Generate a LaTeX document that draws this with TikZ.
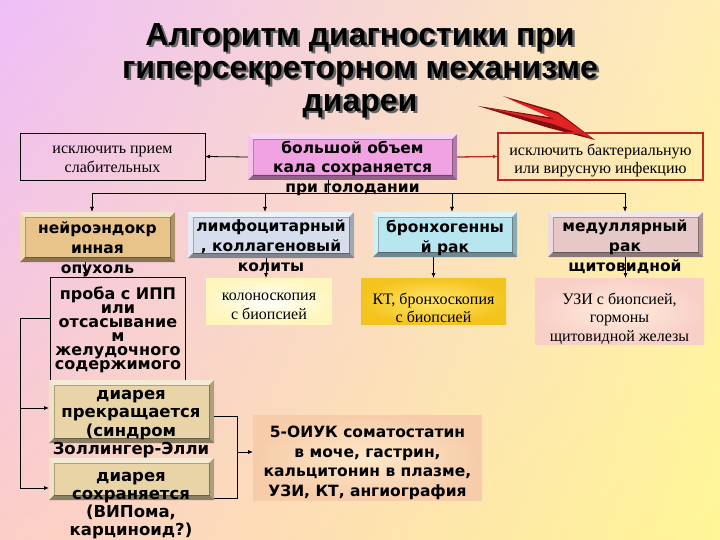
\documentclass[tikz,border=0pt]{standalone}
\usepackage{fontspec}
\setmainfont{Liberation Serif}
\newfontfamily\bsans{DejaVu Sans}
\newfontfamily\tfont{Liberation Sans}
\usetikzlibrary{calc,arrows.meta,shadings}
\definecolor{bgTL}{RGB}{238,190,248}
\definecolor{bgBL}{RGB}{252,206,200}
\definecolor{bgTR}{RGB}{255,238,180}
\definecolor{bgBR}{RGB}{255,246,150}
\definecolor{pinkbox}{RGB}{240,162,226}
\definecolor{tanbox}{RGB}{232,196,138}
\definecolor{limbox}{RGB}{214,222,238}
\definecolor{brobox}{RGB}{184,230,240}
\definecolor{medbox}{RGB}{230,200,200}
\definecolor{diabox}{RGB}{232,212,166}
\definecolor{colout}{RGB}{255,246,190}
\definecolor{ktin}{RGB}{255,230,110}
\definecolor{ktout}{RGB}{244,196,30}
\definecolor{uziin}{RGB}{255,236,220}
\definecolor{uziout}{RGB}{248,208,200}
\definecolor{oiin}{RGB}{255,232,200}
\definecolor{oiout}{RGB}{246,204,170}
\definecolor{redline}{RGB}{190,40,30}
\definecolor{arrowlight}{RGB}{225,35,35}
\definecolor{arrowdark}{RGB}{130,15,15}
\newcommand\shd[1]{\leavevmode\rlap{\kern2.5pt\raisebox{-2.5pt}{\color{black!60}#1}}#1}
\newcommand\bevl[2][5]{%
  \fill[white,opacity=0.55] (#2.north west) -- (#2.north east) -- ($(#2.north east)+(-#1,#1)$) -- ($(#2.north west)+(#1,#1)$) -- cycle;
  \fill[white,opacity=0.35] (#2.north west) -- ($(#2.north west)+(#1,#1)$) -- ($(#2.south west)+(#1,-#1)$) -- (#2.south west) -- cycle;
  \fill[black,opacity=0.40] (#2.south west) -- (#2.south east) -- ($(#2.south east)+(-#1,-#1)$) -- ($(#2.south west)+(#1,-#1)$) -- cycle;
  \fill[black,opacity=0.25] (#2.north east) -- (#2.south east) -- ($(#2.south east)+(-#1,-#1)$) -- ($(#2.north east)+(-#1,#1)$) -- cycle;
  \draw[black,opacity=0.25,line width=0.5pt] ($(#2.north west)+(#1,#1)$) rectangle ($(#2.south east)+(-#1,-#1)$);
}
\begin{document}
\begin{tikzpicture}[x=1pt,y=-1pt,
  every node/.style={inner sep=0pt,outer sep=0pt},
  bx/.style={anchor=north west},
  arr/.style={-{Latex[length=5pt,width=4pt]},line width=0.8pt},
  ln/.style={line width=0.8pt},
  bt/.style={font=\bsans\bfseries\fontsize{15.5}{19.5}\selectfont,align=center,anchor=north},
  bt2/.style={font=\bsans\bfseries\fontsize{15.5}{19.8}\selectfont,align=center,anchor=north},
  st/.style={font=\fontsize{16}{18.5}\selectfont,align=center,anchor=north}]
\shade[upper left=bgTL,upper right=bgTR,lower left=bgBL,lower right=bgBR] (0,0) rectangle (720,540);
\useasboundingbox (0,0) rectangle (720,540);
% title
\node[font=\tfont\bfseries\fontsize{32}{33}\selectfont,align=center,anchor=north] (title) at (360,23) {\shd{Алгоритм диагностики при}\\\shd{гиперсекреторном механизме}\\\shd{диареи}};
% red arrow
\fill[arrowdark,line join=round] (595,140) -- (558,112) -- (503,96) -- (555,118) -- (478,106) -- (549,128) -- cycle;
\fill[arrowlight] (593,139) -- (558,114) -- (508,98.5) -- (556,120) -- (486,107.5) -- (553,124) -- cycle;
% boxes
\node[bx,draw,line width=0.6pt,minimum width=185,minimum height=47] (ex1) at (20,133) {};
\node[bx,fill=pinkbox,minimum width=209,minimum height=46] (cen) at (248,134) {};
\bevl{cen}
\node[bx,draw=redline,line width=2.5pt,minimum width=205,minimum height=47] (ex2) at (498,133) {};
\node[bx,fill=tanbox,minimum width=155,minimum height=50] (neu) at (20,212) {};
\bevl{neu}
\node[bx,fill=limbox,minimum width=166,minimum height=46] (lim) at (188,212) {};
\bevl{lim}
\node[bx,fill=brobox,minimum width=144,minimum height=45] (bro) at (373,212) {};
\bevl{bro}
\node[bx,fill=medbox,minimum width=155,minimum height=45] (med) at (548,212) {};
\bevl{med}
\node[bx,inner color=white,outer color=colout,minimum width=126,minimum height=46] (col) at (206,278) {};
\node[bx,inner color=ktin,outer color=ktout,minimum width=145,minimum height=46] (kt) at (361,278) {};
\node[bx,inner color=uziin,outer color=uziout,minimum width=169,minimum height=66] (uzi) at (535,278) {};
\node[bx,draw,line width=0.6pt,minimum width=135,minimum height=105] (pro) at (50,277) {};
\node[bx,fill=diabox,minimum width=165,minimum height=63] (d1) at (49,380) {};
\bevl{d1}
\node[bx,fill=diabox,minimum width=165,minimum height=42] (d2) at (49,458) {};
\bevl{d2}
\node[bx,inner color=oiin,outer color=oiout,minimum width=229,minimum height=85] (oi) at (253,415) {};
% connectors
\draw[arr] (cen.west) -- (ex1.east);
\draw[arr,redline,line width=1.3pt] (cen.east) -- (ex2.west);
\coordinate (h0) at (328,193);
\coordinate (h1) at (92,193);
\coordinate (h2) at (265,193);
\coordinate (h3) at (452,193);
\coordinate (h4) at (625,193);
\draw[ln] (h0 |- cen.south) -- (h0);
\draw[ln] (h1) -- (h4);
\draw[arr] (h1) -- (h1 |- neu.north);
\draw[arr] (h2) -- (h2 |- lim.north);
\draw[arr] (h3) -- (h3 |- bro.north);
\draw[arr] (h4) -- (h4 |- med.north);
\draw[arr] ($(neu.south)+(-12.5,0)$) -- ($(pro.north)+(-32.5,0)$);
\draw[arr] ($(col.north |- lim.south)+(-3,0)$) -- ($(col.north)+(-3,0)$);
\draw[arr] (kt.north |- bro.south) -- (kt.north);
\draw[arr] (med.south) -- (med.south |- uzi.north);
\coordinate (L1) at (20,318);
\coordinate (L2) at (20,408);
\coordinate (L3) at (20,488);
\draw[ln] (pro.west |- L1) -- (L1) -- (L3);
\draw[arr] (L2) -- (L2 -| d1.west);
\draw[arr] (L3) -- (L3 -| d2.west);
\coordinate (R1) at (237,416);
\coordinate (R2) at (237,498);
\coordinate (R3) at (237,452);
\draw[ln] (R1 -| d1.east) -- (R1) -- (R2) -- (R2 -| d2.east);
\draw[arr] (R3) -- (R3 -| oi.west);
% texts
\node[st] (ex1t) at (112.5,146) {исключить прием\\слабительных};
\node[bt] (cent) at (352.5,141) {большой объем\\кала сохраняется\\при голодании};
\node[st] (ex2t) at (600.5,144) {исключить бактериальную\\или вирусную инфекцию};
\node[bt2] (neut) at (97.5,222) {нейроэндокр\\инная\\опухоль};
\node[bt2] (limt) at (271,220) {лимфоцитарный\\, коллагеновый\\колиты};
\node[bt2] (brot) at (445,220) {бронхогенны\\й рак};
\node[bt2] (medt) at (625,220) {медуллярный\\рак\\щитовидной};
\node[st] (colt) at (269,293) {колоноскопия\\с биопсией};
\node[st] (ktt) at (433.5,293) {КТ, бронхоскопия\\с биопсией};
\node[st] (uzit) at (619.5,293) {УЗИ с биопсией,\\гормоны\\щитовидной железы};
\node[font=\bsans\bfseries\fontsize{16}{14}\selectfont,align=center,anchor=north] (prot) at (118,287) {проба с  ИПП\\или\\отсасывание\\м\\желудочного\\содержимого};
\node[font=\bsans\bfseries\fontsize{16.5}{18.5}\selectfont,align=center,anchor=north] (d1t) at (131,390) {диарея\\прекращается\\(синдром\\Золлингер-Элли};
\node[font=\bsans\bfseries\fontsize{16.5}{18.2}\selectfont,align=center,anchor=north] (d2t) at (131,472) {диарея\\сохраняется\\(ВИПома,\\карциноид?)};
\node[bt] (oit) at (367.5,426) {5-ОИУК соматостатин\\в моче, гастрин,\\кальцитонин в плазме,\\УЗИ, КТ, ангиография};
\end{tikzpicture}
\end{document}
